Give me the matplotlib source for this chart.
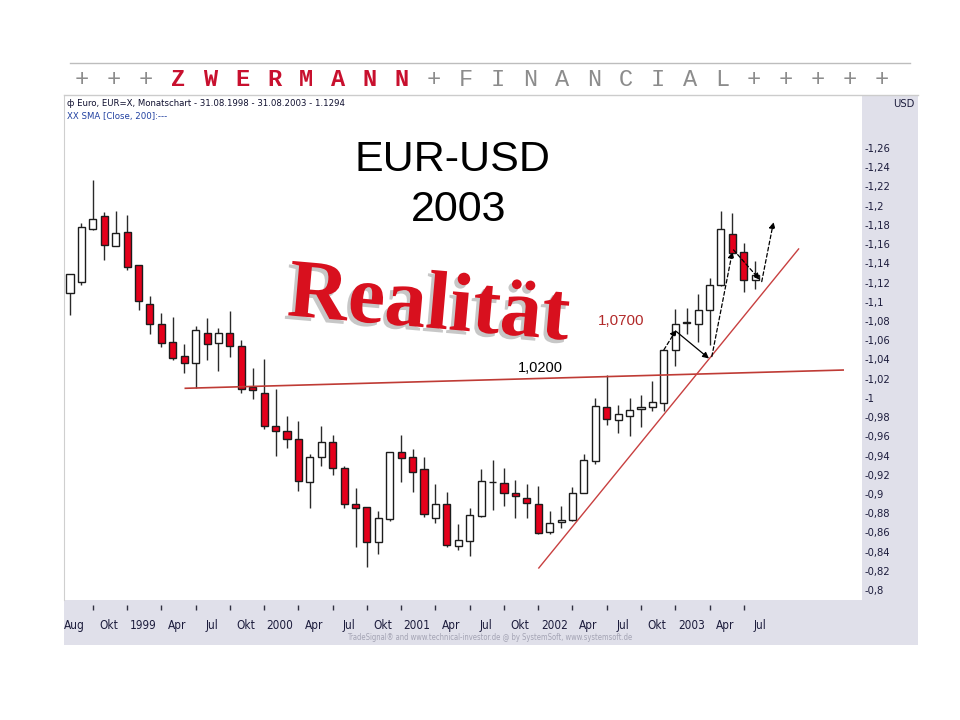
import numpy as np
import matplotlib.pyplot as plt
import matplotlib.patheffects as pe
import matplotlib.transforms as mtransforms
from matplotlib.patches import Rectangle
from matplotlib.lines import Line2D

# monthly EUR/USD candles, Aug 1998 .. Aug 2003
opens = [1.109, 1.121, 1.176, 1.189, 1.158, 1.173, 1.138, 1.098, 1.077, 1.058,
         1.044, 1.036, 1.068, 1.057, 1.068, 1.054, 1.011, 1.005, 0.971, 0.966,
         0.957, 0.912, 0.938, 0.954, 0.927, 0.890, 0.886, 0.850, 0.874, 0.944,
         0.939, 0.926, 0.875, 0.890, 0.846, 0.851, 0.877, 0.913, 0.911, 0.901,
         0.896, 0.890, 0.860, 0.871, 0.873, 0.901, 0.934, 0.991, 0.977, 0.981,
         0.988, 0.991, 0.995, 1.050, 1.079, 1.077, 1.091, 1.117, 1.171, 1.152,
         1.123]
highs = [1.129, 1.182, 1.227, 1.193, 1.194, 1.190, 1.138, 1.106, 1.088, 1.084,
         1.056, 1.075, 1.083, 1.073, 1.090, 1.060, 1.031, 1.040, 1.009, 0.981,
         0.976, 0.942, 0.971, 0.961, 0.929, 0.906, 0.886, 0.882, 0.944, 0.961,
         0.947, 0.939, 0.910, 0.902, 0.869, 0.885, 0.926, 0.935, 0.927, 0.915,
         0.910, 0.908, 0.882, 0.888, 0.907, 0.942, 1.000, 1.024, 0.993, 1.000,
         1.003, 1.018, 1.050, 1.092, 1.094, 1.108, 1.125, 1.194, 1.192, 1.161,
         1.142]
lows = [1.086, 1.118, 1.175, 1.144, 1.158, 1.133, 1.091, 1.067, 1.053, 1.039,
        1.026, 1.010, 1.039, 1.028, 1.043, 1.005, 0.999, 0.968, 0.940, 0.948,
        0.903, 0.885, 0.929, 0.920, 0.885, 0.845, 0.824, 0.838, 0.872, 0.912,
        0.902, 0.876, 0.870, 0.845, 0.842, 0.835, 0.876, 0.883, 0.887, 0.875,
        0.875, 0.858, 0.858, 0.865, 0.872, 0.901, 0.931, 0.972, 0.963, 0.960,
        0.970, 0.986, 0.986, 1.033, 1.067, 1.058, 1.055, 1.116, 1.150, 1.110,
        1.113]
closes = [1.129, 1.178, 1.186, 1.159, 1.172, 1.136, 1.101, 1.077, 1.057, 1.042,
          1.036, 1.071, 1.056, 1.068, 1.054, 1.009, 1.008, 0.971, 0.966, 0.957,
          0.914, 0.939, 0.954, 0.927, 0.890, 0.885, 0.850, 0.875, 0.944, 0.937,
          0.923, 0.879, 0.890, 0.847, 0.852, 0.878, 0.914, 0.912, 0.901, 0.898,
          0.891, 0.859, 0.870, 0.873, 0.901, 0.935, 0.992, 0.978, 0.983, 0.987,
          0.991, 0.996, 1.050, 1.077, 1.078, 1.091, 1.117, 1.176, 1.151, 1.123,
          1.128]

x_labels = ['Aug', 'Okt', '1999', 'Apr', 'Jul', 'Okt', '2000', 'Apr', 'Jul', 'Okt',
            '2001', 'Apr', 'Jul', 'Okt', '2002', 'Apr', 'Jul', 'Okt', '2003', 'Apr', 'Jul']
y_ticks = [0.80, 0.82, 0.84, 0.86, 0.88, 0.90, 0.92, 0.94, 0.96, 0.98, 1.00, 1.02,
           1.04, 1.06, 1.08, 1.10, 1.12, 1.14, 1.16, 1.18, 1.20, 1.22, 1.24, 1.26]

# drawn lines (month index, price)
support_x = [10.1, 67.7]
support_y = [1.010, 1.029]
trend_x = [41.05, 63.8]
trend_y = [0.823, 1.155]
arrow_from = [(52.0, 1.050), (53.1, 1.069), (56.2, 1.043), (58.1, 1.154), (60.57, 1.121)]
arrow_to = [(53.1, 1.071), (55.95, 1.041), (58.0, 1.152), (60.4, 1.123), (61.6, 1.183)]
arrow_dashed = [True, False, True, True, True]

narrow = ['Liberation Sans Narrow', 'DejaVu Sans']
panel = '#e0e0ea'
W, H = 960, 720


def fx(x):
    return x / W


def fy(y):
    return 1 - y / H


fig = plt.figure(figsize=(9.6, 7.2), dpi=100)
fig.patch.set_facecolor('white')

# header
fig.add_artist(Line2D([fx(70), fx(910)], [fy(63), fy(63)], color='#bdbdbd', lw=1))
header = list('+++ZWERMANN+FINANCIAL+++++')
for i, ch in enumerate(header):
    red = 3 <= i <= 10
    fig.text(fx(82 + 32 * i), fy(80), ch, ha='center', va='center',
             family='Liberation Mono', fontsize=17,
             fontweight='bold' if red else 'normal',
             color='#c8102e' if red else '#8c8c8c')

# grey panels of the screenshot
fig.add_artist(Rectangle((fx(862), fy(600)), 56 / W, 505 / H, transform=fig.transFigure,
                         facecolor=panel, edgecolor='none', zorder=-1))
fig.add_artist(Rectangle((fx(64), fy(645)), 854 / W, 45 / H, transform=fig.transFigure,
                         facecolor=panel, edgecolor='none', zorder=-1))
fig.add_artist(Line2D([fx(64), fx(918)], [fy(95), fy(95)], color='#cccccc', lw=1))

ax = fig.add_axes([fx(64), fy(600), 798 / W, 505 / H])
ax.set_xlim(-0.525, 69.35)
ax.set_ylim(0.7897, 1.3152)
for s in ['top', 'right', 'bottom']:
    ax.spines[s].set_visible(False)
ax.spines['left'].set_color('#cfcfcf')

o = np.array(opens)
c = np.array(closes)
months = np.arange(len(o))
up = c >= o
ax.vlines(months, lows, highs, color='#2a2a2a', lw=1, zorder=2)
ax.bar(months, np.abs(c - o), bottom=np.minimum(o, c), width=0.62,
       color=np.where(up, 'white', '#e4001b'), edgecolor='#1c1c1c', lw=1, zorder=3)

ax.plot(support_x, support_y, color='#bf3b35', lw=1.2, zorder=4)
ax.plot(trend_x, trend_y, color='#c84040', lw=1, zorder=4)
for a, b, d in zip(arrow_from, arrow_to, arrow_dashed):
    ax.annotate('', xy=b, xytext=a, zorder=5,
                arrowprops=dict(arrowstyle='-|>', color='black', lw=0.9,
                                linestyle=(0, (3, 2)) if d else '-',
                                mutation_scale=9, shrinkA=0, shrinkB=0))

# y axis on the right
ax.yaxis.tick_right()
ax.set_yticks(y_ticks)
ax.set_yticklabels(['-' + f'{v:g}'.replace('.', ',') for v in y_ticks],
                   family=narrow, fontstretch='condensed', fontsize=8, color='#1c1c3c')
ax.tick_params(axis='y', length=0, pad=2)

# x axis
ax.set_xticks(0.4 + 3 * np.arange(len(x_labels)))
ax.set_xticklabels(x_labels, family=narrow, fontstretch='condensed', fontsize=8.5,
                   color='#1c1c3c')
ax.tick_params(axis='x', length=0, pad=14)
tr = mtransforms.blended_transform_factory(ax.transData, ax.transAxes)
ax.vlines(2 + 3 * np.arange(20), -0.0198, -0.0099, transform=tr, clip_on=False,
          color='#303040', lw=1)

# chart header lines
fig.text(fx(67), fy(104), '\u0444 Euro, EUR=X, Monatschart - 31.08.1998 - 31.08.2003 - 1.1294',
         family=narrow, fontstretch='condensed', fontsize=6.8, color='#101030', va='center')
fig.text(fx(67), fy(116), 'XX SMA [Close, 200]:---', family=narrow, fontstretch='condensed',
         fontsize=6.8, color='#2040a0', va='center')
fig.text(fx(914), fy(104), 'USD', family=narrow, fontstretch='condensed', fontsize=8,
         color='#1c1c3c', ha='right', va='center')
fig.text(fx(490), fy(638), 'TradeSignal\u00ae and www.technical-investor.de @ by SystemSoft, www.systemsoft.de',
         family=narrow, fontstretch='condensed', fontsize=5.5, color='#a4a4b4',
         ha='center', va='center')

# annotations
ax.text(33.45, 1.2475, 'EUR-USD', family='Liberation Sans', fontsize=31,
        ha='center', va='center', color='black')
ax.text(34.06, 1.1955, '2003', family='Liberation Sans', fontsize=31,
        ha='center', va='center', color='black')
ax.text(31.4, 1.0935, 'Realit\u00e4t', family='Liberation Serif', fontweight='bold',
        fontsize=60, color='#d8101e', rotation=-5, rotation_mode='anchor',
        ha='center', va='center',
        path_effects=[pe.withSimplePatchShadow(offset=(-2.5, -2.5), shadow_rgbFace='#9a9a9a',
                                               alpha=0.55)])
ax.text(48.25, 1.080, '1,0700', family='Liberation Sans', fontsize=11,
        color='#b22a2a', ha='center', va='center')
ax.text(41.15, 1.031, '1,0200', family='Liberation Sans', fontsize=10.5,
        color='black', ha='center', va='center')

fig.savefig('out.png', dpi=100)
